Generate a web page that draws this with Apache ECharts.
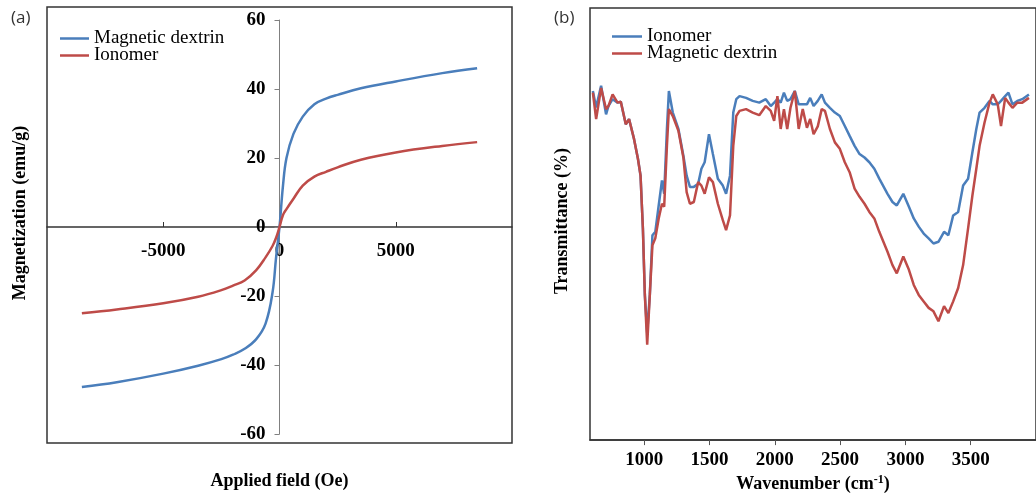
<!DOCTYPE html>
<html>
<head>
<meta charset="utf-8">
<script src="https://cdn.jsdelivr.net/npm/echarts@6/dist/echarts.min.js"></script>
<style>
  html, body { margin: 0; padding: 0; background: #fff; }
  #main { width: 1036px; height: 498px; }
</style>
</head>
<body>
<div id="main"></div>
<script>
// (a) magnetisation curves
var fieldOe = [-8500, -7000, -5000, -3500, -2500, -2000, -1500, -1000, -600, -300, -150, 0,
               150, 300, 600, 1000, 1500, 2000, 2500, 3500, 5000, 7000, 8500];
var magDextrin = [-46.4, -45.0, -42.5, -40.2, -38.3, -37.0, -35.3, -32.5, -28.0, -19.0, -9.0, 0,
                  12.0, 20.0, 27.0, 32.0, 35.6, 37.2, 38.3, 40.2, 42.2, 44.6, 46.0];
var magIonomer = [-25.0, -23.9, -22.1, -20.2, -18.3, -17.0, -15.5, -12.5, -8.8, -5.5, -3.2, 0,
                  3.5, 5.2, 8.2, 12.0, 14.6, 16.0, 17.3, 19.5, 21.6, 23.5, 24.6];
var fieldLabels = [-5000, 0, 5000];

// (b) FTIR spectra (transmittance, arbitrary units)
var waveNum = [607, 632, 670, 708, 726, 758, 796, 821, 859, 884, 922, 952, 972, 990, 1005, 1023,
  1043, 1063, 1085, 1111, 1136, 1153, 1174, 1189, 1219, 1262, 1300, 1325, 1350, 1380, 1413, 1438,
  1463, 1496, 1526, 1564, 1602, 1627, 1657, 1682, 1705, 1730, 1780, 1831, 1881, 1931, 1969, 1995,
  2020, 2045, 2070, 2095, 2120, 2153, 2183, 2214, 2246, 2271, 2297, 2329, 2359, 2384, 2422, 2460,
  2498, 2536, 2573, 2611, 2649, 2687, 2724, 2762, 2800, 2863, 2901, 2934, 2984, 3027, 3064, 3102,
  3140, 3178, 3215, 3253, 3296, 3329, 3366, 3404, 3442, 3480, 3513, 3543, 3568, 3606, 3644, 3669,
  3707, 3732, 3764, 3789, 3820, 3857, 3895, 3946];
var irIonomer = [80.8, 77.0, 82.0, 75.4, 77.3, 78.9, 78.1, 78.3, 73.1, 74.3, 69.7, 65.1, 61.2, 49.0, 33.6, 24.8,
  33.6, 47.4, 48.2, 54.3, 60.1, 57.0, 72.0, 80.8, 75.8, 72.0, 65.8, 61.2, 58.6, 58.6, 59.3, 62.8,
  64.3, 70.8, 66.2, 60.5, 58.9, 57.0, 61.2, 75.8, 78.9, 79.6, 79.2, 78.5, 78.1, 78.9, 77.3, 78.1,
  78.9, 78.1, 80.4, 78.5, 78.9, 80.8, 77.7, 77.7, 77.7, 79.2, 77.3, 78.5, 80.0, 78.1, 76.9, 75.8,
  75.0, 72.7, 70.4, 68.1, 66.2, 65.4, 64.3, 62.8, 60.5, 57.0, 55.1, 54.3, 57.0, 54.0, 51.3, 49.4,
  47.8, 46.7, 45.5, 45.9, 48.2, 47.4, 52.0, 52.8, 58.9, 60.5, 66.6, 72.0, 75.8, 76.9, 78.5, 77.7,
  77.7, 78.5, 79.6, 80.4, 77.7, 78.5, 78.9, 80.0];
var irDextrin = [80.4, 74.3, 81.5, 76.6, 77.3, 80.0, 78.1, 78.3, 73.1, 74.3, 69.7, 65.1, 61.2, 49.0, 33.6, 22.1,
  33.6, 45.1, 46.7, 51.3, 54.7, 54.0, 68.1, 76.6, 75.0, 71.6, 65.4, 57.4, 54.7, 55.1, 59.7, 58.9,
  57.0, 60.8, 59.7, 54.7, 50.9, 48.6, 52.0, 68.1, 75.0, 76.2, 76.6, 75.8, 75.2, 77.3, 76.2, 73.9,
  79.6, 72.0, 76.6, 72.0, 76.9, 80.8, 72.0, 76.6, 72.3, 74.3, 70.8, 72.6, 76.6, 76.2, 72.0, 68.9,
  67.4, 64.3, 62.0, 58.2, 56.3, 54.7, 52.8, 51.3, 48.2, 43.6, 40.5, 38.6, 42.5, 39.4, 35.9, 33.6,
  32.1, 30.6, 29.8, 27.5, 31.0, 29.4, 32.1, 35.2, 40.5, 49.0, 56.6, 62.8, 68.1, 73.5, 78.1, 80.0,
  77.7, 72.7, 79.2, 78.1, 76.9, 78.1, 78.1, 79.2];
var waveLabels = [1000, 1500, 2000, 2500, 3000, 3500];

var BLUE = '#4a7ebb';
var RED = '#be4b48';
var serif = '"Liberation Serif", "DejaVu Serif", serif';

function zip(xs, ys) {
    var out = [];
    for (var i = 0; i < xs.length; i++) out.push([xs[i], ys[i]]);
    return out;
}
function plain(v) { return String(v); }

var chart = echarts.init(document.getElementById('main'));

var tickText = { color: '#000', fontFamily: serif, fontWeight: 'bold', fontSize: 19 };
var titleText = { color: '#000', fontFamily: serif, fontWeight: 'bold', fontSize: 18 };
var hiddenAxisParts = {
    axisLine: { show: false }, axisTick: { show: false },
    axisLabel: { show: false }, splitLine: { show: false }
};
var legendText = { fontFamily: serif, fontSize: 19, color: '#000' };
var panelText = { fontFamily: '"Open Sans", sans-serif', fontWeight: 'normal', fontSize: 17, color: '#333' };

var option = {
    animation: false,
    backgroundColor: '#fff',
    title: [
        { text: '(a)', left: 6, top: 5, textStyle: panelText },
        { text: '(b)', left: 549, top: 5, textStyle: panelText }
    ],
    legend: [
        {
            data: ['a:Magnetic dextrin', 'a:Ionomer'],
            formatter: function (n) { return n.slice(2); },
            icon: 'rect', orient: 'vertical', left: 60, top: 29, padding: 0,
            itemWidth: 29, itemHeight: 2.5, itemGap: -2,
            textStyle: legendText
        },
        {
            data: ['b:Ionomer', 'b:Magnetic dextrin'],
            formatter: function (n) { return n.slice(2); },
            icon: 'rect', orient: 'vertical', left: 612, top: 27, padding: 0,
            itemWidth: 30, itemHeight: 2.5, itemGap: -2,
            textStyle: legendText
        }
    ],
    grid: [
        { left: 47, top: 20, width: 465, height: 414 },
        { left: 47, top: 7, width: 465, height: 436, show: true, borderColor: '#333', borderWidth: 1.5 },
        { left: 590, top: 8, width: 452, height: 435, show: true, borderColor: '#333', borderWidth: 1.5 }
    ],
    xAxis: [
        {
            type: 'value', gridIndex: 0, min: -10000, max: 10000,
            offset: -207,
            axisLine: { onZero: false, lineStyle: { color: '#333', width: 1.5 } },
            axisTick: { inside: true, length: 5, customValues: [-5000, 5000], lineStyle: { color: '#333' } },
            axisLabel: Object.assign({ customValues: fieldLabels, margin: 15, formatter: plain }, tickText),
            splitLine: { show: false }
        },
        Object.assign({
            type: 'value', gridIndex: 1, min: 0, max: 1,
            name: 'Applied field (Oe)', nameLocation: 'middle', nameGap: 29,
            nameTextStyle: titleText
        }, hiddenAxisParts),
        {
            type: 'value', gridIndex: 2, min: 585, max: 4000,
            axisLine: { onZero: false, lineStyle: { color: '#333', width: 1.5 } },
            axisTick: { length: 5, customValues: waveLabels, lineStyle: { color: '#555' } },
            axisLabel: Object.assign({ customValues: waveLabels, margin: 10, formatter: plain }, tickText),
            splitLine: { show: false },
            name: '{b|Wavenumber (cm}{s|-1}{b|)}', nameLocation: 'middle', nameGap: 31,
            nameTextStyle: {
                rich: {
                    b: titleText,
                    s: { color: '#000', fontFamily: serif, fontWeight: 'bold', fontSize: 12, verticalAlign: 'top', padding: [0, 0, 8, 0] }
                }
            }
        }
    ],
    yAxis: [
        {
            type: 'value', gridIndex: 0, min: -60, max: 60, interval: 20,
            offset: -232.5,
            axisLine: { onZero: false, lineStyle: { color: '#808080', width: 1 } },
            axisTick: { length: 5, lineStyle: { color: '#808080' } },
            axisLabel: Object.assign({ margin: 14 }, tickText),
            splitLine: { show: false }
        },
        Object.assign({
            type: 'value', gridIndex: 1, min: 0, max: 1,
            name: 'Magnetization (emu/g)', nameLocation: 'middle', nameGap: 18,
            nameTextStyle: Object.assign({ padding: [0, 0, 0, 24] }, titleText)
        }, hiddenAxisParts),
        Object.assign({
            type: 'value', gridIndex: 2, min: 0, max: 100,
            name: 'Transmittance (%)', nameLocation: 'middle', nameGap: 19,
            nameTextStyle: Object.assign({ padding: [0, 0, 0, 6] }, titleText)
        }, hiddenAxisParts)
    ],
    series: [
        {
            name: 'a:Magnetic dextrin', type: 'line', xAxisIndex: 0, yAxisIndex: 0,
            symbol: 'none', smooth: 0.4, color: BLUE, lineStyle: { width: 2.5 },
            data: zip(fieldOe, magDextrin)
        },
        {
            name: 'a:Ionomer', type: 'line', xAxisIndex: 0, yAxisIndex: 0,
            symbol: 'none', smooth: 0.4, color: RED, lineStyle: { width: 2.5 },
            data: zip(fieldOe, magIonomer)
        },
        {
            name: 'b:Ionomer', type: 'line', xAxisIndex: 2, yAxisIndex: 2,
            symbol: 'none', color: BLUE, lineStyle: { width: 2.5 },
            data: zip(waveNum, irIonomer)
        },
        {
            name: 'b:Magnetic dextrin', type: 'line', xAxisIndex: 2, yAxisIndex: 2,
            symbol: 'none', color: RED, lineStyle: { width: 2.5 },
            data: zip(waveNum, irDextrin)
        }
    ]
};

chart.setOption(option);
</script>
</body>
</html>
